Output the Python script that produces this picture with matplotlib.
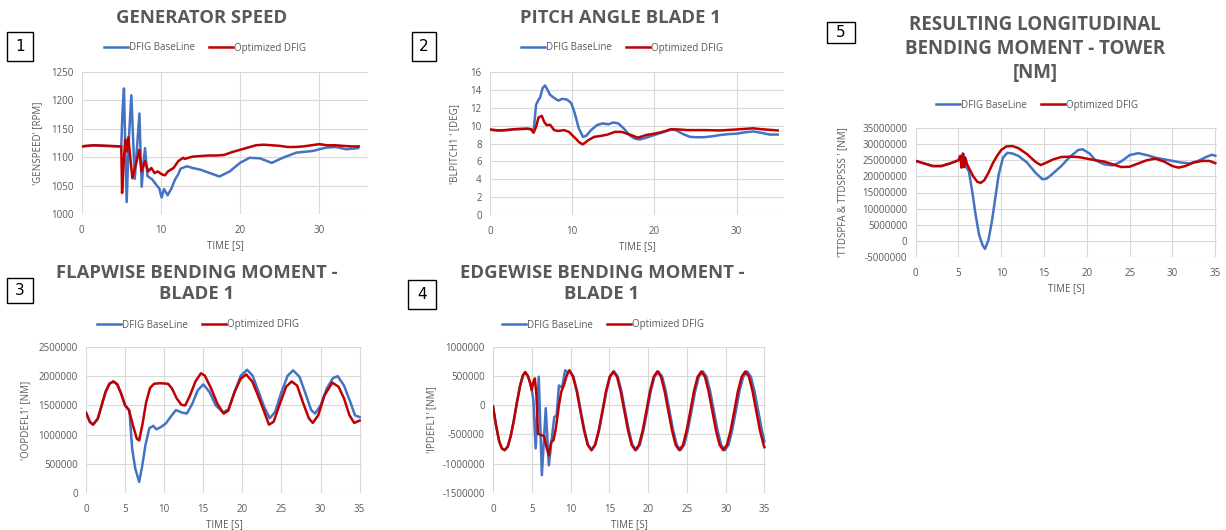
import numpy as np
import matplotlib
matplotlib.use("Agg")
from matplotlib import pyplot as plt
from matplotlib.patches import Rectangle
from matplotlib.ticker import FuncFormatter

plt.rcParams['font.family'] = ['Open Sans', 'DejaVu Sans']

BLUE = '#4472C4'
RED = '#C00000'
GREY = '#595959'
GRID = '#D9D9D9'

# 1 - generator speed [rpm]
gs_t_base = [0, 1.5, 3, 5.0, 5.15, 5.34, 5.5, 5.68, 5.95, 6.27, 6.5, 6.7, 7.0, 7.29, 7.45, 7.58,
             7.8, 8.0, 8.3, 8.6, 8.9, 9.5, 9.8, 10.1, 10.4, 10.85, 11.3, 11.8, 12.2, 12.5, 13.3,
             14, 15, 16.2, 17.4, 18.7, 20, 21.2, 22.5, 24, 25.4, 27.1, 29.2, 30.9, 32.1, 33.4, 34.9]
gs_base = [1119, 1121, 1120, 1119, 1180, 1221, 1120, 1021, 1130, 1209, 1130, 1062, 1120, 1177, 1100, 1048,
           1090, 1116, 1067, 1064, 1061, 1050, 1045, 1029, 1044, 1033, 1044, 1061, 1070, 1080, 1084,
           1081, 1078, 1072, 1066, 1075, 1090, 1099, 1098, 1090, 1099, 1108, 1111, 1117, 1118, 1114, 1116]
gs_t_opt = [0, 1.5, 3, 5.0, 5.1, 5.3, 5.5, 5.67, 5.9, 6.1, 6.4, 6.85, 7.27, 7.56, 8.0, 8.4, 8.8, 9.2,
            9.6, 10.1, 10.5, 10.9, 11.6, 12.2, 12.8, 13, 14, 15, 16, 17, 18, 19, 20, 21, 22, 23, 24,
            25, 26, 27, 28, 29, 30, 31, 32, 33, 34, 35]
gs_opt = [1119, 1121, 1120, 1119, 1037, 1090, 1131, 1110, 1135, 1104, 1063, 1087, 1113, 1075, 1093, 1075,
          1081, 1072, 1075, 1070, 1068, 1075, 1081, 1093, 1099, 1097, 1101, 1102, 1103, 1103, 1104, 1109,
          1113, 1117, 1121, 1122, 1121, 1120, 1118, 1118, 1119, 1121, 1123, 1121, 1121, 1120, 1119, 1119]

# 2 - pitch angle blade 1 [deg]
pa_t_base = [0, 1, 2, 3, 4.5, 5.0, 5.3, 5.6, 5.9, 6.1, 6.4, 6.7, 7.0, 7.3, 7.8, 8.3, 8.8, 9.4, 9.9,
             10.3, 10.8, 11.3, 11.7, 12.3, 13, 13.7, 14.4, 15, 15.6, 16.2, 17, 17.6, 18.2, 19, 20, 21,
             22, 22.6, 23.5, 24.3, 25, 26, 27, 28, 29, 30, 31, 32, 33, 34, 35]
pa_base = [9.55, 9.46, 9.5, 9.6, 9.65, 9.6, 9.3, 12.3, 12.9, 13.15, 14.2, 14.5, 14.0, 13.45, 13.1, 12.8,
           13.0, 12.9, 12.5, 11.4, 9.7, 8.75, 8.85, 9.5, 10.05, 10.25, 10.15, 10.35, 10.25, 9.75, 8.9,
           8.55, 8.45, 8.65, 8.95, 9.25, 9.55, 9.5, 9.05, 8.75, 8.7, 8.7, 8.8, 8.95, 9.05, 9.1, 9.25,
           9.35, 9.2, 9.0, 9.0]
pa_t_opt = [0, 1, 2, 3, 4.5, 5.0, 5.3, 5.6, 5.9, 6.3, 6.6, 6.9, 7.3, 7.8, 8.3, 9, 9.6, 10.2, 10.9,
            11.3, 12, 12.7, 13.5, 14.3, 15.2, 16, 17, 18, 19, 20, 21, 22, 23, 24, 26, 28, 30, 32, 33, 35]
pa_opt = [9.55, 9.46, 9.5, 9.6, 9.65, 9.6, 9.2, 9.85, 10.9, 11.1, 10.4, 10.05, 10.1, 9.5, 9.4, 9.5,
          9.3, 8.75, 8.1, 7.9, 8.4, 8.75, 8.85, 9.0, 9.3, 9.3, 9.0, 8.65, 8.95, 9.1, 9.3, 9.6, 9.57,
          9.5, 9.5, 9.46, 9.57, 9.7, 9.6, 9.46]

# 3 - flapwise bending moment blade 1 [MNm]
fw_t_base = [0, 0.5, 0.9, 1.5, 2, 2.5, 3, 3.5, 4, 4.5, 5, 5.5, 5.6, 5.9, 6.3, 6.8, 7.2, 7.6, 8.1,
             8.6, 9, 9.6, 10.2, 10.8, 11.5, 12.2, 12.9, 13.6, 14.3, 15, 15.8, 16.6, 17.5, 18.2, 19,
             19.8, 20.6, 21.3, 22, 22.8, 23.5, 24.2, 25, 25.8, 26.5, 27.3, 28, 28.8, 29.3, 30, 30.8,
             31.6, 32.2, 33, 33.8, 34.4, 35]
fw_base = [1.376, 1.216, 1.17, 1.27, 1.50, 1.73, 1.87, 1.91, 1.86, 1.70, 1.50, 1.42, 1.33, 0.76, 0.42,
           0.19, 0.47, 0.82, 1.11, 1.15, 1.09, 1.13, 1.19, 1.30, 1.42, 1.38, 1.36, 1.53, 1.76, 1.86,
           1.73, 1.50, 1.38, 1.43, 1.73, 2.01, 2.11, 2.01, 1.76, 1.47, 1.28, 1.39, 1.73, 2.01, 2.10,
           1.99, 1.73, 1.42, 1.36, 1.50, 1.79, 1.97, 2.0, 1.84, 1.56, 1.33, 1.30]
fw_t_opt = [0, 0.5, 0.9, 1.5, 2, 2.5, 3, 3.5, 4, 4.5, 5, 5.5, 6, 6.5, 6.8, 7.2, 7.7, 8.2, 8.7, 9.5,
            10.5, 11, 11.6, 12.2, 12.7, 13.3, 14, 14.7, 15.2, 16, 16.8, 17.6, 18.2, 19, 19.8, 20.5,
            21.3, 22, 22.8, 23.4, 24, 24.8, 25.6, 26.3, 27, 27.8, 28.5, 29, 29.7, 30.5, 31.5, 32.3,
            33, 33.7, 34.3, 35]
fw_opt = [1.376, 1.216, 1.17, 1.27, 1.50, 1.73, 1.87, 1.91, 1.86, 1.70, 1.50, 1.42, 1.16, 0.93, 0.90,
          1.16, 1.56, 1.80, 1.87, 1.88, 1.87, 1.79, 1.62, 1.51, 1.50, 1.67, 1.91, 2.05, 2.01, 1.79,
          1.53, 1.36, 1.41, 1.73, 1.96, 2.03, 1.90, 1.67, 1.39, 1.17, 1.22, 1.53, 1.82, 1.91, 1.84,
          1.53, 1.28, 1.20, 1.33, 1.67, 1.89, 1.82, 1.62, 1.33, 1.20, 1.24]

# 4 - edgewise bending moment blade 1 [MNm]
ew_t_base = [0, 0.4, 0.8, 1.15, 1.5, 1.9, 2.3, 2.7, 3.1, 3.5, 3.85, 4.15, 4.5, 4.8, 5.0, 5.2, 5.5,
             5.9, 6.3, 6.8, 7.2, 7.6, 7.9, 8.2, 8.5, 8.9, 9.3, 9.6, 9.9,
             10.37, 10.85, 11.32, 11.79, 12.26, 12.73, 13.2, 13.68, 14.15, 14.62, 15.1,
             15.62, 16.09, 16.56, 17.04, 17.51, 17.98, 18.45, 18.93, 19.4, 19.87, 20.34, 20.82,
             21.34, 21.81, 22.28, 22.76, 23.23, 23.7, 24.17, 24.65, 25.12, 25.59, 26.06, 26.54,
             27.06, 27.53, 28.0, 28.48, 28.95, 29.42, 29.89, 30.37, 30.84, 31.31, 31.78, 32.26,
             32.78, 33.25, 33.72, 34.2, 34.67, 35.0]
ew_base = [-0.02, -0.35, -0.62, -0.74, -0.77, -0.71, -0.52, -0.25, 0.06, 0.34, 0.51, 0.57, 0.50, 0.38,
           0.26, 0.10, -0.74, 0.49, -1.20, -0.05, -1.03, -0.55, -0.20, -0.18, 0.34, 0.30, 0.60, 0.57,
           0.59,
           0.49, 0.24, -0.10, -0.43, -0.68, -0.77, -0.68, -0.43, -0.10, 0.24, 0.49,
           0.58, 0.49, 0.24, -0.10, -0.43, -0.68, -0.77, -0.68, -0.43, -0.10, 0.24, 0.49,
           0.58, 0.49, 0.24, -0.10, -0.43, -0.68, -0.77, -0.68, -0.43, -0.10, 0.24, 0.49,
           0.58, 0.49, 0.24, -0.10, -0.43, -0.68, -0.77, -0.68, -0.43, -0.10, 0.24, 0.49,
           0.58, 0.49, 0.24, -0.10, -0.43, -0.62]
ew_t_opt = [0, 0.4, 0.8, 1.15, 1.5, 1.9, 2.3, 2.7, 3.1, 3.5, 3.85, 4.15, 4.5, 4.8, 5.0, 5.2, 5.4,
            5.6, 5.8, 6.2, 6.6, 6.9, 7.2, 7.5, 7.8, 8.1, 8.5, 8.8, 9.2, 9.5,
            9.85, 10.32, 10.8, 11.27, 11.74, 12.21, 12.68, 13.15, 13.63, 14.1, 14.57, 15.05,
            15.52, 15.99, 16.46, 16.94, 17.41, 17.88, 18.35, 18.83, 19.3, 19.77, 20.24, 20.72,
            21.19, 21.66, 22.13, 22.61, 23.08, 23.55, 24.02, 24.5, 24.97, 25.44, 25.91, 26.39,
            26.86, 27.33, 27.8, 28.28, 28.75, 29.22, 29.69, 30.17, 30.64, 31.11, 31.58, 32.06,
            32.53, 33.0, 33.47, 33.95, 34.42, 34.89, 35.0]
ew_opt = [-0.02, -0.35, -0.62, -0.74, -0.77, -0.71, -0.52, -0.25, 0.06, 0.34, 0.51, 0.57, 0.50, 0.38,
          0.26, 0.40, 0.46, 0.17, -0.49, -0.51, -0.53, -0.72, -0.86, -0.63, -0.60, -0.40, 0.0, 0.23,
          0.37, 0.51,
          0.60, 0.49, 0.24, -0.10, -0.43, -0.68, -0.77, -0.68, -0.43, -0.10, 0.24, 0.49,
          0.58, 0.49, 0.24, -0.10, -0.43, -0.68, -0.77, -0.68, -0.43, -0.10, 0.24, 0.49,
          0.58, 0.49, 0.24, -0.10, -0.43, -0.68, -0.77, -0.68, -0.43, -0.10, 0.24, 0.49,
          0.58, 0.49, 0.24, -0.10, -0.43, -0.68, -0.77, -0.68, -0.43, -0.10, 0.24, 0.49,
          0.58, 0.49, 0.24, -0.10, -0.43, -0.68, -0.72]

# 5 - longitudinal bending moment tower [MNm]
tw_t_base = [0, 1, 2, 3, 4, 5, 5.3, 5.6, 5.8, 6.2, 6.6, 7.0, 7.4, 7.8, 8.1, 8.5, 8.9, 9.3, 9.7, 10.2,
             10.7, 11.3, 12, 13, 14, 14.8, 15.3, 16, 17, 18, 19, 19.5, 20.3, 21, 22, 23, 24, 25, 26,
             27, 28, 29, 30, 31, 32, 33, 34, 34.6, 35]
tw_base = [24.8, 24.0, 23.2, 23.2, 24.0, 25.0, 25.8, 26.9, 23.2, 21.7, 15.4, 8.1, 1.9, -1.25, -2.5,
           0.3, 6.0, 13.3, 20.6, 25.8, 27.3, 27.1, 26.35, 24.3, 21.1, 19.1, 19.3, 20.8, 23.2, 26.0,
           28.2, 28.4, 27.1, 25.0, 23.75, 23.4, 24.6, 26.6, 27.2, 26.6, 25.8, 25.3, 24.8, 24.3, 24.0,
           24.8, 26.1, 26.7, 26.4]
tw_t_opt = [0, 1, 2, 3, 4, 5, 5.2, 5.35, 5.5, 5.65, 5.8, 6.0, 6.3, 6.7, 7.2, 7.6, 8, 8.5, 9, 9.5,
            10, 10.6, 11.3, 12, 13, 14, 14.6, 15.3, 16, 17, 18, 19, 20, 21, 22, 23, 24, 25, 26, 27,
            28, 29, 30, 30.7, 31.5, 32.5, 33.5, 34.3, 35]
tw_opt = [24.8, 24.0, 23.2, 23.2, 24.0, 25.0, 26.35, 22.7, 27.1, 22.9, 25.8, 23.75, 22.2, 20.1, 18.3,
          18.0, 18.75, 21.1, 24.0, 26.35, 28.2, 29.3, 29.4, 28.75, 26.9, 24.5, 23.5, 24.3, 25.2,
          26.0, 26.1, 26.0, 25.5, 25.0, 24.6, 23.75, 22.9, 23.0, 24.0, 25.0, 25.5, 24.6, 23.2, 22.7,
          23.2, 24.3, 24.8, 24.8, 24.1]

W, H = 1226, 530
fig = plt.figure(figsize=(W / 100, H / 100), dpi=100)


def fx(x):
    return x / W


def fy(y):
    return 1 - y / H


def panel(left, top, right, bottom):
    return fig.add_axes([fx(left), fy(bottom), fx(right - left), (bottom - top) / H])


def style(ax, xmax, xstep, ylim, ystep, ylabel, ylab_x, big=False):
    ax.set_xlim(0, xmax)
    ax.set_ylim(*ylim)
    ax.set_xticks(np.arange(0, xmax, xstep))
    ax.set_yticks(np.arange(ylim[0], ylim[1] + ystep / 2, ystep))
    if big:
        ax.yaxis.set_major_formatter(FuncFormatter(lambda v, p: '%d' % round(v)))
    ax.grid(True, color=GRID, lw=0.8)
    ax.set_axisbelow(True)
    for s in ax.spines.values():
        s.set_visible(False)
    ax.tick_params(length=0, labelsize=7, labelcolor=GREY)
    ax.tick_params(axis='x', pad=8)
    ax.tick_params(axis='y', pad=6)
    ax.set_xlabel('TIME [S]', fontsize=7, color=GREY, labelpad=3)
    ax.set_ylabel(ylabel, fontsize=7, color=GREY)
    ax.yaxis.set_label_coords(ylab_x, 0.5)


def legend(ax, x, y):
    ax.legend(loc='center', bbox_to_anchor=(fx(x), fy(y)), bbox_transform=fig.transFigure,
              ncol=2, frameon=False, fontsize=7, labelcolor=GREY, handlelength=2.4,
              handletextpad=0.1, columnspacing=1.5)


def numbox(x0, y0, x1, y1, n):
    fig.patches.append(Rectangle((fx(x0), fy(y1)), fx(x1 - x0), (y1 - y0) / H,
                                 transform=fig.transFigure, fill=False, ec='black', lw=1))
    fig.text(fx((x0 + x1) / 2), fy((y0 + y1) / 2), n, ha='center', va='center', fontsize=11,
             family='DejaVu Sans')


def title(x, y, s, size=13.3, spacing=1.2):
    fig.text(fx(x), fy(y), s, ha='center', va='center', fontsize=size, fontweight='bold',
             color=GREY, linespacing=spacing)


lw = 1.8

# 1
ax1 = panel(81.7, 72, 368.3, 214)
ax1.plot(gs_t_base, gs_base, color=BLUE, lw=lw, label='DFIG BaseLine')
ax1.plot(gs_t_opt, gs_opt, color=RED, lw=lw, label='Optimized DFIG')
style(ax1, 36.2, 10, (1000, 1250), 50, "'GENSPEED' [RPM]", -0.135)
legend(ax1, 205, 48)
title(202, 18, 'GENERATOR SPEED')
numbox(7, 32, 33, 61, '1')

# 2
ax2 = panel(490, 72, 784.3, 215)
ax2.plot(pa_t_base, pa_base, color=BLUE, lw=lw, label='DFIG BaseLine')
ax2.plot(pa_t_opt, pa_opt, color=RED, lw=lw, label='Optimized DFIG')
style(ax2, 35.8, 10, (0, 16), 2, "'BLPITCH1 ' [DEG]", -0.102)
legend(ax2, 622, 48)
title(620, 18, 'PITCH ANGLE BLADE 1')
numbox(412, 32, 436, 61, '2')

# 3
ax3 = panel(86, 347, 362, 493)
ax3.plot(fw_t_base, np.array(fw_base) * 1e6, color=BLUE, lw=lw, label='DFIG BaseLine')
ax3.plot(fw_t_opt, np.array(fw_opt) * 1e6, color=RED, lw=lw, label='Optimized DFIG')
style(ax3, 35.3, 5, (0, 2500000), 500000, "'OOPDEFL1' [NM]", -0.2, big=True)
legend(ax3, 198, 325)
title(197, 283.5, 'FLAPWISE BENDING MOMENT -\nBLADE 1')
numbox(7, 278, 33, 303, '3')

# 4
ax4 = panel(493, 347, 766, 492.7)
ax4.plot(ew_t_base, np.array(ew_base) * 1e6, color=BLUE, lw=lw, label='DFIG BaseLine')
ax4.plot(ew_t_opt, np.array(ew_opt) * 1e6, color=RED, lw=lw, label='Optimized DFIG')
style(ax4, 35.2, 5, (-1500000, 1000000), 500000, "'IPDEFL1' [NM]", -0.205, big=True)
legend(ax4, 603, 325)
title(602, 283.5, 'EDGEWISE BENDING MOMENT -\nBLADE 1')
numbox(408, 280, 436, 309, '4')

# 5
ax5 = panel(915.7, 128, 1217, 257)
ax5.plot(tw_t_base, np.array(tw_base) * 1e6, color=BLUE, lw=lw, label='DFIG BaseLine')
ax5.plot(tw_t_opt, np.array(tw_opt) * 1e6, color=RED, lw=lw, label='Optimized DFIG')
style(ax5, 35.2, 5, (-5000000, 35000000), 5000000, "'TTDSPFA & TTDSPSSS ' [NM]", -0.225, big=True)
legend(ax5, 1037, 105)
title(1035, 49, 'RESULTING LONGITUDINAL\nBENDING MOMENT - TOWER\n[NM]', size=13.5, spacing=1.3)
numbox(827, 22, 855, 43, '5')

fig.savefig('out.png', dpi=100)
